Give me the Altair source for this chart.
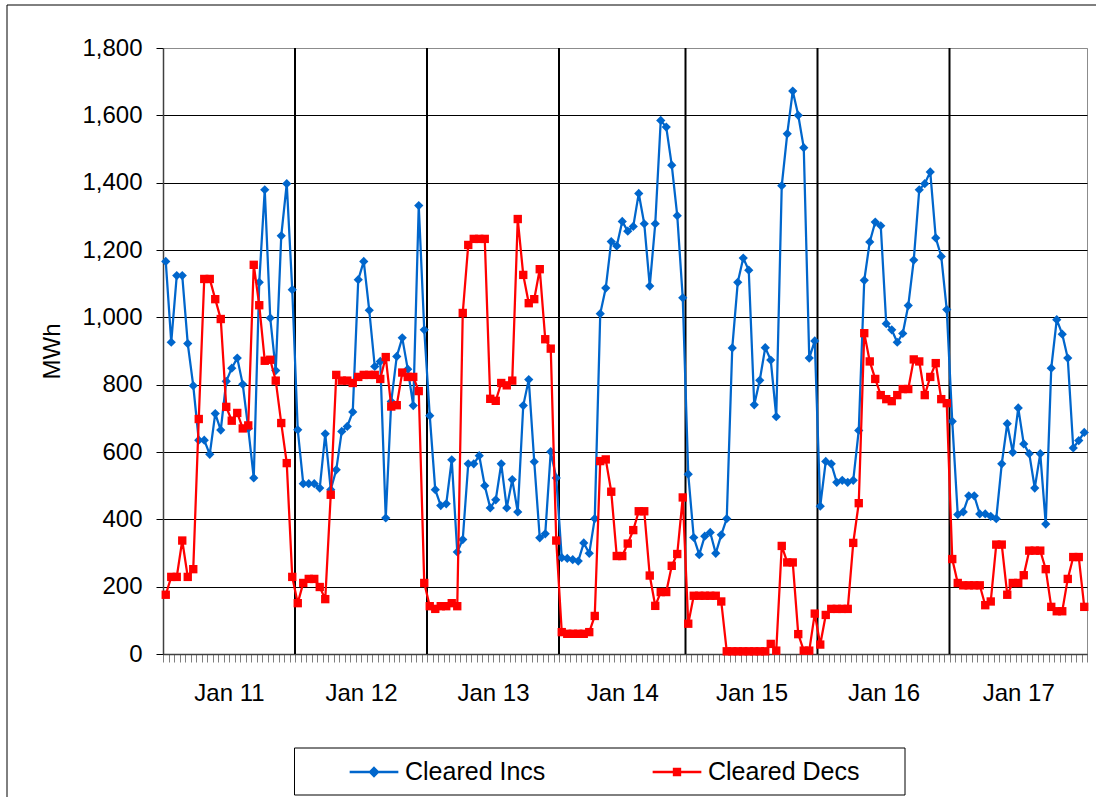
import altair as alt
import pandas as pd

# Hourly cleared virtual bids, one list per day
DAYS = ["Jan 11", "Jan 12", "Jan 13", "Jan 14", "Jan 15", "Jan 16", "Jan 17"]

CLEARED_INCS = [
    [1166, 926, 1124, 1124, 922, 797, 635, 635, 593, 714, 665, 810,
     849, 879, 801, 670, 523, 1104, 1379, 998, 842, 1242, 1397, 1082],
    [666, 506, 506, 506, 493, 654, 488, 547, 661, 676, 719, 1112,
     1166, 1021, 854, 869, 404, 750, 884, 939, 846, 738, 1332, 963],
    [708, 488, 441, 446, 577, 303, 340, 565, 565, 589, 500, 434,
     458, 565, 434, 518, 422, 738, 815, 571, 345, 357, 601, 523],
    [286, 284, 280, 276, 330, 299, 402, 1011, 1087, 1225, 1212, 1285,
     1256, 1270, 1368, 1278, 1093, 1278, 1585, 1565, 1452, 1302, 1058],
    [534, 346, 295, 350, 361, 299, 354, 402, 909, 1104, 1176, 1140,
     740, 813, 910, 873, 705, 1391, 1545, 1672, 1600, 1504, 879, 930],
    [439, 572, 565, 510, 516, 510, 516, 664, 1110, 1224, 1283, 1272,
     981, 963, 926, 952, 1035, 1170, 1379, 1397, 1432, 1236, 1181, 1023],
    [691, 414, 422, 470, 470, 416, 416, 409, 402, 565, 684, 599,
     731, 624, 595, 493, 595, 386, 849, 993, 950, 879, 612, 634, 658],
]

CLEARED_DECS = [
    [176, 229, 229, 337, 229, 252, 698, 1114, 1114, 1054, 995, 734,
     693, 716, 670, 679, 1156, 1036, 871, 874, 812, 686, 567, 229],
    [151, 211, 223, 223, 199, 163, 473, 829, 812, 812, 805, 823,
     829, 829, 829, 817, 882, 735, 739, 836, 823, 823, 781, 211],
    [142, 134, 142, 142, 151, 142, 1013, 1215, 1233, 1233, 1233, 758,
     752, 805, 798, 812, 1292, 1126, 1042, 1054, 1143, 935, 907, 337],
    [65, 60, 60, 60, 60, 65, 113, 573, 578, 482, 291, 291,
     328, 368, 424, 424, 233, 143, 184, 184, 262, 297, 465],
    [90, 173, 173, 173, 173, 173, 156, 8, 8, 8, 8, 8,
     8, 8, 8, 30, 10, 321, 272, 272, 59, 10, 10, 120],
    [28, 116, 134, 134, 134, 134, 330, 448, 953, 869, 817, 769,
     757, 751, 769, 787, 787, 875, 869, 769, 823, 864, 757, 745],
    [282, 211, 204, 204, 204, 204, 145, 156, 325, 325, 176, 211,
     211, 234, 307, 307, 307, 252, 140, 127, 127, 223, 288, 288, 140],
]

SERIES = ["Cleared Incs", "Cleared Decs"]
COLORS = ["#0066CC", "#FF0000"]
Y_TICKS = list(range(0, 1801, 200))

# Long table: one row per hour and series; hour k sits in the middle of its slot
rows = []
day_starts = []
k = 0
for incs, decs in zip(CLEARED_INCS, CLEARED_DECS):
    day_starts.append(k)
    for a, b in zip(incs, decs):
        rows.append({"k": k + 0.5, "series": SERIES[0], "mwh": a})
        rows.append({"k": k + 0.5, "series": SERIES[1], "mwh": b})
        k += 1
n_hours = k
df = pd.DataFrame(rows)

day_lengths = [len(d) for d in CLEARED_INCS]
dividers = pd.DataFrame({"pos": day_starts[1:]})
centers = [s + n / 2 for s, n in zip(day_starts, day_lengths)]

# Hourly ticks at slot edges, day names at day centres
tick_values = sorted(set(list(range(n_hours + 1)) + centers))
label_expr = ""
for c, name in zip(centers, DAYS):
    label_expr += f"datum.value == {c:g} ? '{name}' : "
label_expr += "''"

W, H = 924, 606
LEFT, TOP = 163, 48

x_axis = alt.Axis(
    values=tick_values,
    labelExpr=label_expr,
    tickSize=8,
    tickColor="#7f7f7f",
    tickOpacity={"condition": {"test": "datum.value % 1 != 0", "value": 0}, "value": 1},
    labelFontSize=24,
    labelPadding=19,
    labelBaseline="top",
    labelOverlap=False,
    labelFlush=False,
    domainColor="#404040",
    domainWidth=1.5,
    grid=False,
    title=None,
)
y_axis = alt.Axis(
    values=Y_TICKS,
    format=",d",
    labelFontSize=24,
    labelPadding=14,
    tickSize=7,
    tickColor="black",
    grid=True,
    gridColor={"condition": {"test": "datum.value >= 1800", "value": "#8c8c8c"}, "value": "black"},
    gridWidth=1,
    domainColor="#404040",
    domainWidth=1.5,
    title="MWh",
    titleFontSize=24,
    titleFontWeight="normal",
    titleX=-111,
    titleBaseline="middle",
)
x_scale = alt.Scale(domain=[0, n_hours], nice=False, zero=False)
y_scale = alt.Scale(domain=[0, 1800], nice=False)

X = alt.X("k:Q", scale=x_scale, axis=x_axis)
Y = alt.Y("mwh:Q", scale=y_scale, axis=y_axis)

# Midnight separators
divider_layer = alt.Chart(dividers).mark_rule(color="black", strokeWidth=2).encode(
    x=alt.X("pos:Q", scale=x_scale, axis=x_axis)
)


def series_layers(name, color, shape, size):
    base = alt.Chart(df).transform_filter(alt.datum.series == name)
    line = base.mark_line(color=color, strokeWidth=2.25).encode(x=X, y=Y)
    pts = base.mark_point(filled=True, shape=shape, size=size, color=color,
                          opacity=1).encode(x=X, y=Y)
    return [line, pts]


incs_layers = series_layers(SERIES[0], COLORS[0], "diamond", 85)
decs_layers = series_layers(SERIES[1], COLORS[1], "square", 70)

# Legend symbols: a line segment with the series marker in the middle
LEGEND_SHAPES = [
    "M-1,0L1,0M0,-0.16L0.16,0L0,0.16L-0.16,0Z",
    "M-1,0L1,0M-0.12,-0.12L0.12,-0.12L0.12,0.12L-0.12,0.12Z",
]
legend = alt.Legend(
    orient="none",
    legendX=185,
    legendY=698,
    direction="horizontal",
    title=None,
    labelFontSize=25,
    labelOffset=5,
    columnPadding=101,
    symbolSize=2372,
    symbolStrokeWidth=2.5,
    padding=0,
)
legend_layer = (
    alt.Chart(df)
    .transform_filter("datum.mwh < 0")
    .mark_point(opacity=1, filled=True)
    .encode(
        x=X,
        y=Y,
        fill=alt.Fill("series:N", scale=alt.Scale(domain=SERIES, range=COLORS), legend=legend),
        stroke=alt.Stroke("series:N", scale=alt.Scale(domain=SERIES, range=COLORS), legend=legend),
        shape=alt.Shape("series:N", scale=alt.Scale(domain=SERIES, range=LEGEND_SHAPES), legend=legend),
    )
)

one_row = alt.Data(values=[{}])
# Frame around the legend entries
legend_box = alt.Chart(one_row).mark_rect(fill="white", stroke="black", strokeWidth=1).encode(
    x=alt.value(294.5 - LEFT), x2=alt.value(905 - LEFT),
    y=alt.value(748 - TOP), y2=alt.value(795 - TOP),
)
# Frame around the whole chart
chart_frame = alt.Chart(one_row).mark_rect(fill=None, stroke="black", strokeWidth=1).encode(
    x=alt.value(7 - LEFT), x2=alt.value(1110 - LEFT),
    y=alt.value(5 - TOP), y2=alt.value(810 - TOP),
)

chart = (
    alt.layer(
        chart_frame,
        legend_box,
        divider_layer,
        *incs_layers,
        *decs_layers,
        legend_layer,
    )
    .properties(
        width=W,
        height=H,
        autosize=alt.AutoSizeParams(type="none"),
        padding={"left": LEFT, "top": TOP, "right": 1096 - LEFT - W, "bottom": 797 - TOP - H},
        background="white",
    )
    .configure(font="Liberation Sans")
    .configure_view(stroke="#8c8c8c", strokeWidth=1)
    .configure_axis(labelColor="black", titleColor="black")
    .configure_legend(labelColor="black")
)

chart.save("out.html", embed_options={"renderer": "svg", "actions": False})
